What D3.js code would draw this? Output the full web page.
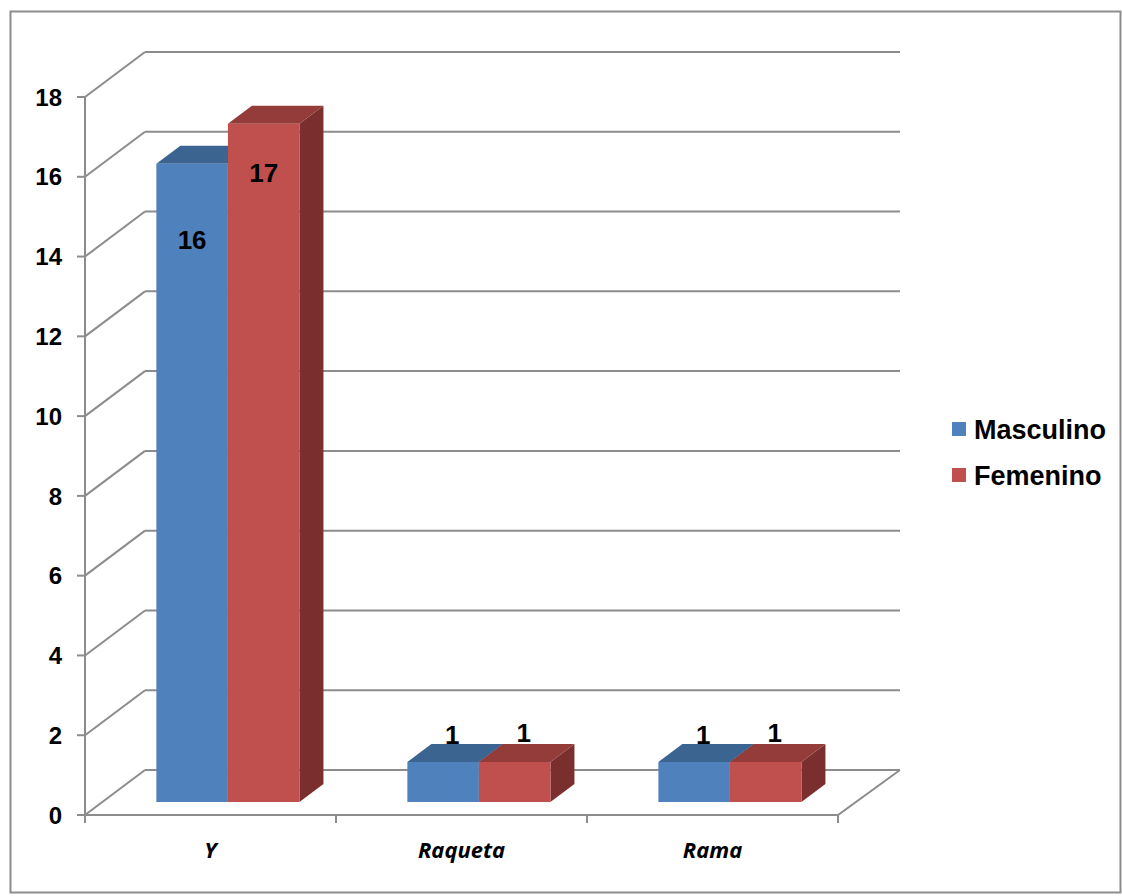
<!DOCTYPE html>
<html>
<head>
<meta charset="utf-8">
<script src="https://cdn.jsdelivr.net/npm/d3@7"></script>
<style>
  html, body { margin: 0; padding: 0; background: #ffffff; }
  svg { display: block; }
</style>
</head>
<body>
<svg id="chart" width="1122" height="896"></svg>
<script>
// Chart data
const categories = ["Y", "Raqueta", "Rama"];
const seriesNames = ["Masculino", "Femenino"];
const masculino = [16, 1, 1];
const femenino = [17, 1, 1];
const yTicks = [0, 2, 4, 6, 8, 10, 12, 14, 16, 18];

const seriesValues = [masculino, femenino];
const palette = [
  { front: "#4F81BD", top: "#3C6491", side: "#34557D" },
  { front: "#C0504D", top: "#933C3A", side: "#7A2F2E" }
];

const svg = d3.select("#chart");

// Plot geometry (oblique 3D projection)
const plotLeft = 85, plotRight = 838;
const depthX = 60, depthY = -45;           // full wall depth offset
const barFront = 0.29, barDepth = 0.4;      // bar position in depth (fraction)

const y = d3.scaleLinear().domain([0, 18]).range([815, 97]);
const x0 = d3.scaleBand().domain(categories).range([plotLeft, plotRight]).paddingInner(0).paddingOuter(0);
const x1 = d3.scaleBand().domain(d3.range(seriesNames.length))
  .range([x0.bandwidth() * 0.215, x0.bandwidth() * 0.785]).padding(0);

// project (xFront, value, depth fraction) to screen
const P = (xf, v, d) => [xf + depthX * d, y(v) + depthY * d];
const poly = pts => pts.map(p => p.join(",")).join(" ");

const gridColor = "#8C8C8C";

// Outer chart border
svg.append("rect")
  .attr("x", 10.5).attr("y", 11.5).attr("width", 1110).attr("height", 881)
  .attr("fill", "none").attr("stroke", gridColor).attr("stroke-width", 2);

const grid = svg.append("g").attr("fill", "none").attr("stroke", gridColor).attr("stroke-width", 2);

// Back wall horizontal gridlines and left wall diagonals
yTicks.forEach(t => {
  const a = P(plotLeft, t, 0), b = P(plotLeft, t, 1), e = P(plotRight, t, 1);
  grid.append("line").attr("x1", a[0]).attr("y1", a[1]).attr("x2", b[0]).attr("y2", b[1]);
  grid.append("line").attr("x1", b[0]).attr("y1", b[1]).attr("x2", e[0] + 2).attr("y2", e[1]);
});

// Floor: front edge and right edge
{
  const br = P(plotRight, 0, 1), fr = P(plotRight, 0, 0), fl = P(plotLeft, 0, 0);
  grid.append("polyline").attr("points", poly([fl, fr, [br[0] + 2, br[1]]]));
}

// Vertical axis line with tick marks
grid.append("line").attr("x1", plotLeft).attr("y1", y(0)).attr("x2", plotLeft).attr("y2", y(18));
yTicks.forEach(t => {
  grid.append("line").attr("x1", plotLeft - 8).attr("y1", y(t)).attr("x2", plotLeft).attr("y2", y(t));
});

// Category axis ticks at band edges
const edges = categories.map(c => x0(c)).concat([plotRight]);
edges.forEach(e => {
  grid.append("line").attr("x1", e).attr("y1", y(0)).attr("x2", e).attr("y2", y(0) + 8);
});

// Y tick labels
svg.append("g").selectAll("text").data(yTicks).join("text")
  .attr("x", 62).attr("y", d => y(d)).attr("dy", "0.36em")
  .attr("text-anchor", "end")
  .attr("font-family", "Liberation Sans, Arial, sans-serif")
  .attr("font-weight", "bold").attr("font-size", 24)
  .text(d => d);

// Category labels
svg.append("g").selectAll("text").data(categories).join("text")
  .attr("x", d => x0(d) + x0.bandwidth() / 2)
  .attr("y", 858)
  .attr("text-anchor", "middle")
  .attr("font-family", "'Open Sans', Lato, sans-serif")
  .attr("font-weight", "bold").attr("font-style", "italic").attr("font-size", 22)
  .text(d => d);

// Bars (drawn category by category, series left to right)
const bars = svg.append("g");
categories.forEach((c, ci) => {
  seriesValues.forEach((vals, si) => {
    const v = vals[ci];
    const xl = x0(c) + x1(si), xr = xl + x1.bandwidth();
    const d0 = barFront, d1 = barFront + barDepth;
    const col = palette[si];
    // side face
    bars.append("polygon")
      .attr("points", poly([P(xr, 0, d0), P(xr, v, d0), P(xr, v, d1), P(xr, 0, d1)]))
      .attr("fill", col.side);
    // top face
    bars.append("polygon")
      .attr("points", poly([P(xl, v, d0), P(xr, v, d0), P(xr, v, d1), P(xl, v, d1)]))
      .attr("fill", col.top);
    // front face
    bars.append("polygon")
      .attr("points", poly([P(xl, 0, d0), P(xr, 0, d0), P(xr, v, d0), P(xl, v, d0)]))
      .attr("fill", col.front);
  });
});

// Data labels: tall bars carry the label on the front face, short bars above the top
const labels = svg.append("g")
  .attr("font-family", "Liberation Sans, Arial, sans-serif")
  .attr("font-weight", "bold").attr("font-size", 26).attr("fill", "#000");
categories.forEach((c, ci) => {
  seriesValues.forEach((vals, si) => {
    const v = vals[ci];
    const xl = x0(c) + x1(si), xr = xl + x1.bandwidth();
    const cx = (xl + xr) / 2;
    const ly = 768 - v * (33 + 2 * si);
    const inside = ly > P(cx, v, barFront)[1];
    const px = inside ? P(cx, v, barFront)[0] : P(cx, v, barFront + barDepth / 2)[0] - 3;
    labels.append("text")
      .attr("x", px).attr("y", ly).attr("dy", "0.36em")
      .attr("text-anchor", "middle")
      .text(v);
  });
});

// Legend
const legend = svg.append("g").attr("transform", "translate(952,422)");
seriesNames.forEach((name, i) => {
  const g = legend.append("g").attr("transform", `translate(0,${i * 46})`);
  g.append("rect").attr("width", 14).attr("height", 14).attr("fill", palette[i].front);
  g.append("text").attr("x", 22).attr("y", 7).attr("dy", "0.36em")
    .attr("font-family", "Liberation Sans, Arial, sans-serif")
    .attr("font-weight", "bold").attr("font-size", 27)
    .text(name);
});
</script>
</body>
</html>
